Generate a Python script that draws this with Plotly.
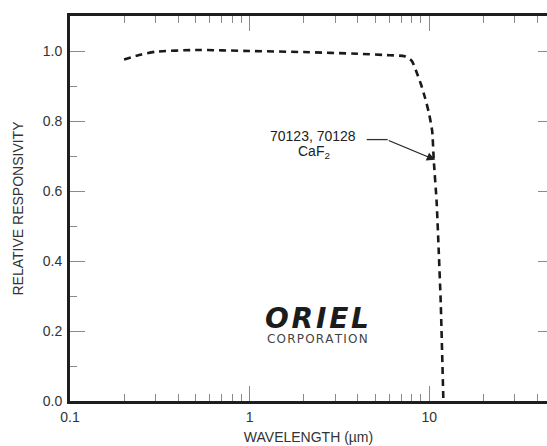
import math
import plotly.graph_objects as go

# ---- data ----
wavelength_um = [0.2, 0.25, 0.3, 0.5, 1.0, 2.0, 4.0, 6.0, 7.3, 8.0, 8.5, 9.0,
                 9.5, 10.0, 10.4, 10.6, 11.0, 11.3, 11.6, 12.0]
responsivity = [0.976, 0.99, 0.998, 1.003, 1.0, 0.997, 0.992, 0.988, 0.985, 0.972,
                0.94, 0.905, 0.865, 0.82, 0.77, 0.69, 0.57, 0.43, 0.28, 0.0]

x_major = [0.1, 1, 10]
x_major_text = ["0.1", "1", "10"]
x_minor = [0.2, 0.3, 0.4, 0.5, 0.6, 0.7, 0.8, 0.9,
           2, 3, 4, 5, 6, 7, 8, 9, 20, 30, 40]
y_major = [0.0, 0.2, 0.4, 0.6, 0.8, 1.0]
y_major_text = ["0.0", "0.2", "0.4", "0.6", "0.8", "1.0"]
y_minor = [0.1, 0.3, 0.5, 0.7, 0.9]

label_line1 = "70123, 70128"
label_line2 = "CaF<sub>2</sub>"
arrow_tip = (10.8, 0.689)

AX = "#1e1e1e"
TK = "#8a8a8a"
TXT = "#333333"
FONT = "Liberation Sans, Arial, sans-serif"

fig = go.Figure()
fig.add_trace(go.Scatter(
    x=wavelength_um, y=responsivity, mode="lines",
    line=dict(color="#1a1a1a", width=2.6, dash="7px,5px", shape="spline", smoothing=0.5),
    showlegend=False, hoverinfo="skip",
))
# invisible trace to activate right-side y axis (mirror ticks)
fig.add_trace(go.Scatter(x=[wavelength_um[0]], y=[responsivity[0]], yaxis="y2",
                         mode="markers", marker=dict(opacity=0), showlegend=False,
                         hoverinfo="skip"))

fig.update_layout(
    width=547, height=446,
    margin=dict(l=70, r=0, t=16, b=45),
    paper_bgcolor="white", plot_bgcolor="white",
    font=dict(family=FONT, size=14, color=TXT),
    xaxis=dict(
        type="log", range=[-1, math.log10(45.3)],
        tickmode="array", tickvals=x_major, ticktext=x_major_text,
        ticks="inside", ticklen=15, tickcolor=TK, tickwidth=1,
        minor=dict(tickmode="array", tickvals=x_minor, ticks="inside",
                   ticklen=7, tickcolor=TK, tickwidth=1, showgrid=False),
        showline=True, linecolor=AX, linewidth=3, mirror="ticks",
        showgrid=False, zeroline=False,
        ticklabelstandoff=1,
        title=dict(text="WAVELENGTH (µm)", standoff=9, font=dict(size=14, color=TXT)),
    ),
    yaxis=dict(
        range=[0, 1.1],
        tickmode="array", tickvals=y_major, ticktext=y_major_text,
        ticks="inside", ticklen=15, tickcolor=TK, tickwidth=1,
        minor=dict(tickmode="array", tickvals=y_minor, ticks="inside",
                   ticklen=7, tickcolor=TK, tickwidth=1, showgrid=False),
        showline=True, linecolor=AX, linewidth=3, mirror=False,
        showgrid=False, zeroline=False,
        ticklabelstandoff=2,
        title=dict(text="RELATIVE RESPONSIVITY", standoff=16, font=dict(size=14, color=TXT)),
    ),
    yaxis2=dict(
        overlaying="y", side="right", range=[0, 1.1],
        tickmode="array", tickvals=y_major, ticks="inside", ticklen=9,
        tickcolor=TK, tickwidth=1, showticklabels=False,
        showline=False, showgrid=False, zeroline=False,
    ),
)

# label text
fig.add_annotation(xref="paper", yref="paper", x=0.51, y=0.688, text=label_line1,
                   xanchor="center", yanchor="middle",
                   showarrow=False, font=dict(size=14, color="#222"))
fig.add_annotation(xref="paper", yref="paper", x=0.511, y=0.648, text=label_line2,
                   xanchor="center", yanchor="middle",
                   showarrow=False, font=dict(size=14, color="#222"))
# leader line + arrow
fig.add_shape(type="line", xref="paper", yref="paper", x0=0.622, x1=0.666,
              y0=0.679, y1=0.679, line=dict(color="#333", width=1.3))
fig.add_annotation(x=math.log10(arrow_tip[0]), y=arrow_tip[1], xref="x", yref="y",
                   text="", showarrow=True, arrowhead=2, arrowsize=1.3, arrowwidth=1.3,
                   arrowcolor="#222", ax=-48, ay=-20)

# ORIEL logo (text)
fig.add_annotation(xref="paper", yref="paper", x=0.518, y=0.215,
                   xanchor="center", yanchor="middle",
                   text="<b><i>O\u200aR\u200aI\u200aE\u200aL</i></b>", showarrow=False,
                   font=dict(family="DejaVu Sans", size=28, color="#1c1c1c"))
fig.add_annotation(xref="paper", yref="paper", x=0.518, y=0.162,
                   xanchor="center", yanchor="middle",
                   text="\u200a".join("CORPORATION"), showarrow=False,
                   font=dict(family="DejaVu Sans", size=12, color="#444"))

fig.write_html("out.html")
